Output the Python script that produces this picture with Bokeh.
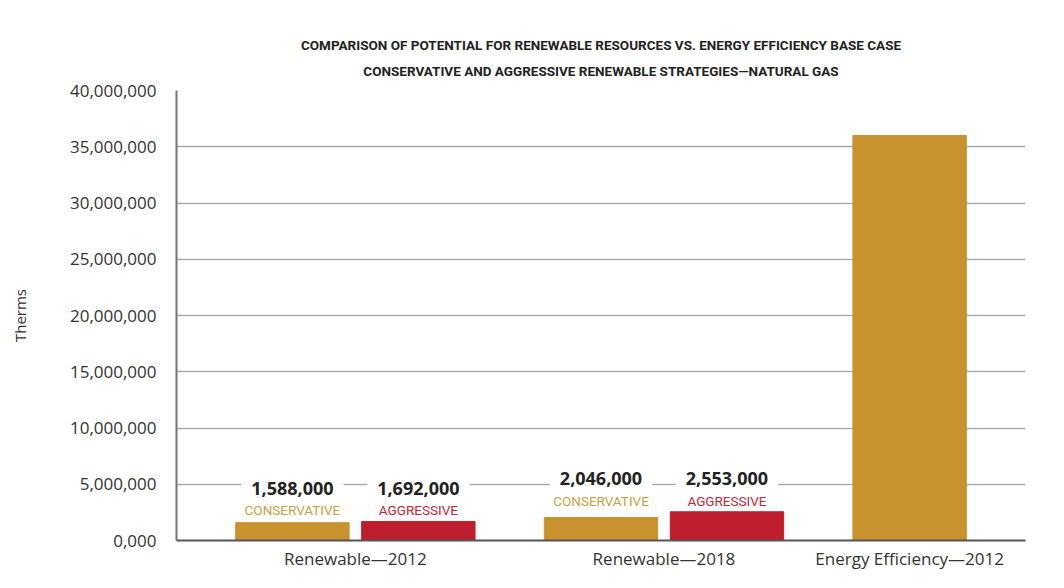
from bokeh.plotting import figure
from bokeh.models import (FactorRange, ColumnDataSource, FixedTicker,
                          CustomJSTickFormatter, Title, Range1d)
from bokeh.core.properties import value
from bokeh.embed import file_html
from bokeh.resources import INLINE

# ---- data ----
groups = ["Renewable\u20142012", "Renewable\u20142012",
          "Renewable\u20142018", "Renewable\u20142018",
          "Energy Efficiency\u20142012"]
strategies = ["CONSERVATIVE", "AGGRESSIVE", "CONSERVATIVE", "AGGRESSIVE", "BASE CASE"]
therms = [1588000, 1692000, 2046000, 2553000, 36000000]
labelled = [True, True, True, True, False]
y_ticks = [0, 5000000, 10000000, 15000000, 20000000, 25000000,
           30000000, 35000000, 40000000]
title_lines = ["COMPARISON OF POTENTIAL FOR RENEWABLE RESOURCES VS. ENERGY EFFICIENCY BASE CASE",
               "CONSERVATIVE AND AGGRESSIVE RENEWABLE STRATEGIES\u2014NATURAL GAS"]
y_label = "Therms"

# ---- styles ----
bar_colors = {"CONSERVATIVE": "#C8922F", "AGGRESSIVE": "#BE1E2D", "BASE CASE": "#C8922F"}
text_colors = {"CONSERVATIVE": "#C9A044", "AGGRESSIVE": "#C22838"}
FONT = "Open Sans"
NARROW = "Roboto"

factors = list(zip(groups, strategies))
src = ColumnDataSource(dict(
    x=factors, top=therms, color=[bar_colors[s] for s in strategies]))

group_max = {}
for g, v in zip(groups, therms):
    group_max[g] = max(group_max.get(g, 0), v)

lab_idx = [i for i, f in enumerate(labelled) if f]
lab_src = ColumnDataSource(dict(
    x=[factors[i] for i in lab_idx],
    y=[group_max[groups[i]] for i in lab_idx],
    val=[f"{therms[i]:,}" for i in lab_idx],
    strat=[strategies[i] for i in lab_idx],
    tcolor=[text_colors[strategies[i]] for i in lab_idx],
))

p = figure(x_range=FactorRange(*factors, group_padding=0.45, factor_padding=0.0,
                               range_padding=0.42, range_padding_units="absolute"),
           y_range=Range1d(0, 40000000),
           width=1048, height=572, output_backend="svg", toolbar_location=None,
           min_border_left=176, min_border_right=23, min_border_top=90,
           min_border_bottom=0)

p.vbar(x="x", top="top", width=0.9, color="color", source=src)

p.text(x="x", y="y", text="val", source=lab_src, text_align="center",
       text_baseline="middle", y_offset=-33, text_font=value(FONT),
       text_font_style="bold", text_font_size="18px", text_color="#222222",
       background_fill_color="white", padding=(10, 2))
p.text(x="x", y="y", text="strat", source=lab_src, text_align="center",
       text_baseline="middle", y_offset=-11, text_font=value(NARROW),
       text_font_size="13.5px", text_color="tcolor")

# titles (bottom line first: it sits closest to the plot)
p.add_layout(Title(text=title_lines[1], align="center", text_font=NARROW,
                   text_font_size="13.5px", text_font_style="bold",
                   vertical_align="top",
                   text_color="#222222", standoff=20), "above")
p.add_layout(Title(text=title_lines[0], align="center", text_font=NARROW,
                   text_font_size="13.5px", text_font_style="bold",
                   vertical_align="bottom",
                   text_color="#222222", standoff=0), "above")

# axes
xa = p.xaxis[0]
xa.major_label_text_font_size = "0px"
xa.major_label_standoff = 0
xa.group_text_font = FONT
xa.group_text_font_size = "17px"
xa.group_text_color = "#333333"
xa.group_text_font_style = "normal"
xa.separator_line_color = None
xa.major_tick_line_color = None
xa.minor_tick_line_color = None
xa.axis_line_color = "#555555"
xa.axis_line_width = 2

ya = p.yaxis[0]
ya.ticker = FixedTicker(ticks=y_ticks)
ya.formatter = CustomJSTickFormatter(
    code="return tick == 0 ? '0,000' : tick.toLocaleString('en-US');")
ya.major_label_text_font = FONT
ya.major_label_text_font_size = "17px"
ya.major_label_text_color = "#333333"
ya.major_label_standoff = 14
ya.major_tick_line_color = None
ya.minor_tick_line_color = None
ya.axis_line_color = "#777777"
ya.axis_line_width = 2
ya.axis_label = y_label
ya.axis_label_text_font = FONT
ya.axis_label_text_font_style = "normal"
ya.axis_label_text_font_size = "15px"
ya.axis_label_text_color = "#333333"
ya.axis_label_standoff = 37

p.xgrid.visible = False
p.ygrid.grid_line_color = "#AAAAAA"
p.ygrid.grid_line_width = 1.5
p.outline_line_color = None

open("out.html", "w").write(file_html(p, INLINE))
